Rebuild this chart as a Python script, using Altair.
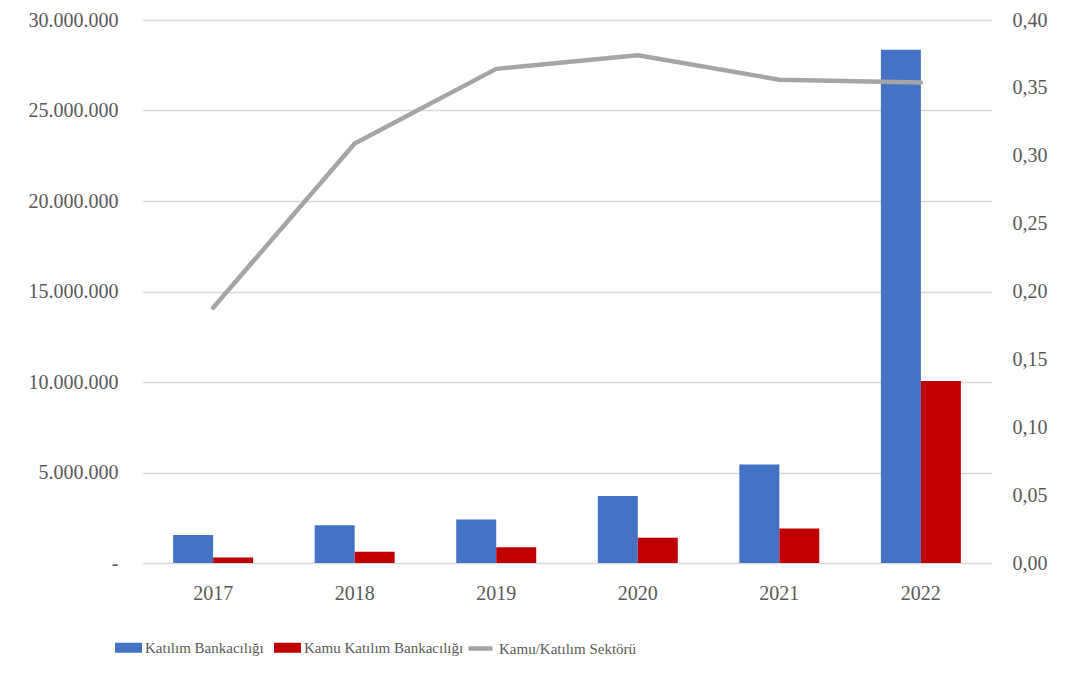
import altair as alt
import pandas as pd

years = ["2017", "2018", "2019", "2020", "2021", "2022"]
katilim = [1550000, 2080000, 2410000, 3700000, 5440000, 28350000]
kamu = [310000, 620000, 870000, 1390000, 1900000, 10060000]
oran = [0.188, 0.309, 0.364, 0.374, 0.356, 0.354]

series = ["Katılım Bankacılığı", "Kamu Katılım Bankacılığı"]
bar_colors = ["#4472C4", "#C00000"]
line_name = "Kamu/Katılım Sektörü"
line_color = "#A5A5A5"

rows = []
for i, y in enumerate(years):
    rows.append({"Yıl": y, "Seri": series[0], "Değer": katilim[i]})
    rows.append({"Yıl": y, "Seri": series[1], "Değer": kamu[i]})
df_bars = pd.DataFrame(rows)
df_line = pd.DataFrame({"Yıl": years, "Oran": oran, "Gösterge": [line_name] * len(years)})

FONT = "Liberation Serif"
TXT = "#595959"

x_enc = alt.X(
    "Yıl:N",
    sort=years,
    scale=alt.Scale(paddingInner=0.435, paddingOuter=0.22),
    axis=alt.Axis(title=None, labelAngle=0, domain=False, ticks=False,
                  labelPadding=20, labelFontSize=20, labelFont=FONT, labelColor=TXT),
)

bars = alt.Chart(df_bars).mark_bar().encode(
    x=x_enc,
    xOffset=alt.XOffset("Seri:N", sort=series),
    y=alt.Y(
        "Değer:Q",
        scale=alt.Scale(domain=[0, 30000000], nice=False),
        axis=alt.Axis(title=None, values=[0, 5000000, 10000000, 15000000, 20000000, 25000000, 30000000],
                      format=",.0f", labelExpr="datum.value == 0 ? '-' : datum.label",
                      grid=True, gridColor="#D9D9D9", gridWidth=1.5,
                      domain=False, ticks=False, labelPadding=24,
                      labelFontSize=20, labelFont=FONT, labelColor=TXT),
    ),
    color=alt.Color(
        "Seri:N",
        sort=series,
        scale=alt.Scale(domain=series, range=bar_colors),
        legend=alt.Legend(title=None, orient="none", direction="horizontal",
                          legendX=-27, legendY=614,
                          symbolType="M-1,-0.37L1,-0.37L1,0.37L-1,0.37Z",
                          symbolSize=729, symbolStrokeWidth=0, symbolOpacity=1,
                          labelOffset=3, columnPadding=10, padding=0,
                          labelFont=FONT, labelFontSize=15, labelColor=TXT, labelLimit=0),
    ),
)

line = alt.Chart(df_line).mark_line(strokeWidth=4.5, strokeCap="round", strokeJoin="round").encode(
    x=x_enc,
    y=alt.Y(
        "Oran:Q",
        scale=alt.Scale(domain=[0, 0.4], nice=False),
        axis=alt.Axis(title=None, orient="right", values=[0, 0.05, 0.1, 0.15, 0.2, 0.25, 0.3, 0.35, 0.4],
                      format=".2f", grid=False, domain=False, ticks=False, labelPadding=20,
                      labelFontSize=20, labelFont=FONT, labelColor=TXT),
    ),
    stroke=alt.Stroke(
        "Gösterge:N",
        scale=alt.Scale(domain=[line_name], range=[line_color]),
        legend=alt.Legend(title=None, orient="none", legendX=324, legendY=614,
                          symbolType="stroke", symbolSize=576, symbolStrokeWidth=4.5,
                          labelOffset=4, padding=0,
                          labelFont=FONT, labelFontSize=15, labelColor=TXT, labelLimit=0),
    ),
)

chart = alt.layer(bars, line).resolve_scale(y="independent").properties(
    width=850,
    height=543,
    autosize=alt.AutoSizeParams(type="none"),
    padding={"left": 134, "top": 12, "right": 80, "bottom": 100},
    background="white",
).configure_view(stroke=None).configure_legend(
    labelFont=FONT, labelFontSize=15, labelColor=TXT
)

chart.save(
    "out.html",
    embed_options={
        "renderer": "svg",
        "actions": False,
        "formatLocale": {"decimal": ",", "thousands": ".", "grouping": [3], "currency": ["", " TL"]},
    },
)
